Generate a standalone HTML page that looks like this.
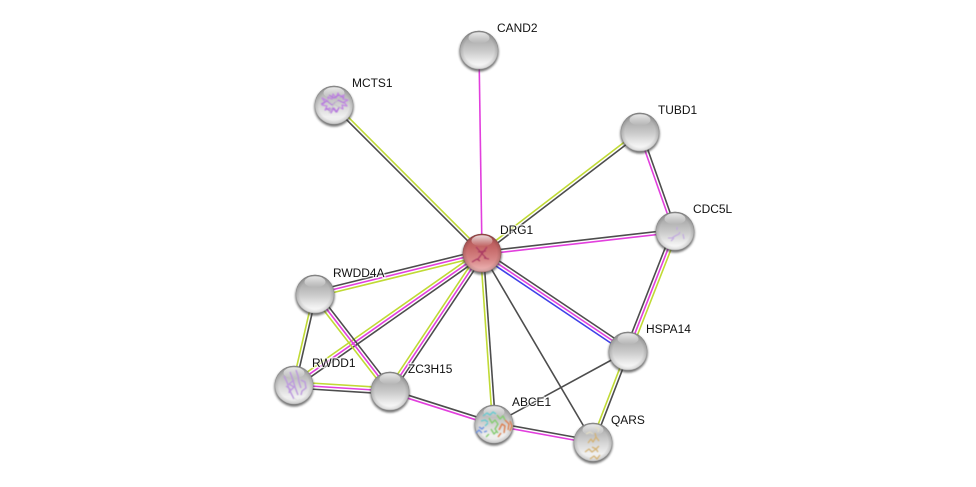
<!DOCTYPE html>
<html>
<head>
<meta charset="utf-8">
<style>
html,body{margin:0;padding:0;background:#fff;width:976px;height:487px;overflow:hidden}
svg{display:block}
text{font-family:"Liberation Sans",sans-serif;font-size:11.95px;fill:#111;paint-order:stroke;stroke:rgba(255,255,255,.75);stroke-width:2.5px;stroke-linejoin:round}
line{stroke-width:1.6;fill:none}
.k{stroke:#4d4d4d}.m{stroke:#e23fdd}.y{stroke:#c0da35}.b{stroke:#4040e8}
</style>
</head>
<body>
<svg width="976" height="487" viewBox="0 0 976 487" xmlns="http://www.w3.org/2000/svg">
<defs>
<linearGradient id="g" x1="0" y1="0" x2="0" y2="1">
<stop offset="0" stop-color="#9c9c9c"/>
<stop offset=".3" stop-color="#b4b4b4"/>
<stop offset=".55" stop-color="#cdcdcd"/>
<stop offset=".8" stop-color="#ededed"/>
<stop offset=".95" stop-color="#fbfbfb"/>
<stop offset="1" stop-color="#e6e6e6"/>
</linearGradient>
<linearGradient id="gs" x1="0" y1="0" x2="0" y2="1">
<stop offset="0" stop-color="#a2a2a2"/>
<stop offset=".3" stop-color="#bdbdbd"/>
<stop offset=".55" stop-color="#d8d8d8"/>
<stop offset=".8" stop-color="#f0f0f0"/>
<stop offset="1" stop-color="#e8e8e8"/>
</linearGradient>
<linearGradient id="r" x1="0" y1="0" x2="0" y2="1">
<stop offset="0" stop-color="#a94f4f"/>
<stop offset=".35" stop-color="#c46666"/>
<stop offset=".7" stop-color="#d88a8a"/>
<stop offset=".95" stop-color="#eeb5b5"/>
<stop offset="1" stop-color="#d59292"/>
</linearGradient>
<radialGradient id="rim" cx="50%" cy="50%" r="50%">
<stop offset=".78" stop-color="#000" stop-opacity="0"/>
<stop offset=".95" stop-color="#000" stop-opacity=".12"/>
<stop offset="1" stop-color="#000" stop-opacity=".32"/>
</radialGradient>
<linearGradient id="h" x1="0" y1="0" x2="0" y2="1">
<stop offset="0" stop-color="#fff" stop-opacity=".8"/>
<stop offset="1" stop-color="#fff" stop-opacity="0"/>
</linearGradient>
<filter id="s" x="-30%" y="-30%" width="160%" height="160%"><feGaussianBlur stdDeviation="1.1"/></filter>
<filter id="t" x="-10%" y="-10%" width="120%" height="120%"><feGaussianBlur stdDeviation=".5"/></filter>
<g id="n">
<circle cx="0" cy="1.8" r="19.8" fill="#3d3d3d" opacity=".7" filter="url(#s)"/>
<circle r="19.3" fill="url(#g)"/>
<circle r="19.3" fill="url(#rim)"/>
<ellipse cx="0" cy="-12.2" rx="10.5" ry="5.6" fill="url(#h)"/>
</g>
<g id="ns">
<circle cx="0" cy="1.8" r="19.8" fill="#3d3d3d" opacity=".7" filter="url(#s)"/>
<circle r="19.3" fill="url(#gs)"/>
<circle r="19.3" fill="url(#rim)"/>
<ellipse cx="0" cy="-12.2" rx="10.5" ry="5.6" fill="url(#h)"/>
</g>
<g id="nr">
<circle cx="0" cy="1.8" r="19.8" fill="#3d3d3d" opacity=".7" filter="url(#s)"/>
<circle r="19.3" fill="url(#r)"/>
<circle r="19.3" fill="url(#rim)"/>
<ellipse cx="0" cy="-12.2" rx="10.5" ry="5.6" fill="url(#h)"/>
</g>
</defs>

<!-- CAND2 -->
<line class="m" x1="479" y1="50" x2="482" y2="253"/>
<!-- MCTS1 -->
<line class="y" x1="335.06" y1="103.94" x2="483.06" y2="251.94"/>
<line class="k" x1="332.94" y1="106.06" x2="480.94" y2="254.06"/>
<!-- TUBD1 -->
<line class="y" x1="639.09" y1="130.81" x2="481.09" y2="251.81"/>
<line class="k" x1="640.91" y1="133.19" x2="482.91" y2="254.19"/>
<!-- TUBD1-CDC5L -->
<line class="k" x1="641.41" y1="131.5" x2="676.41" y2="230.5"/>
<line class="m" x1="638.59" y1="132.5" x2="673.59" y2="231.5"/>
<!-- DRG1-CDC5L -->
<line class="k" x1="481.83" y1="251.51" x2="674.83" y2="229.51"/>
<line class="m" x1="482.17" y1="254.49" x2="675.17" y2="232.49"/>
<!-- CDC5L-HSPA14 -->
<line class="k" x1="672.21" y1="229.91" x2="625.21" y2="349.91"/>
<line class="m" x1="675" y1="231" x2="628" y2="351"/>
<line class="y" x1="677.79" y1="232.09" x2="630.79" y2="352.09"/>
<!-- DRG1-HSPA14 -->
<line class="k" x1="483.67" y1="250.51" x2="629.67" y2="348.51"/>
<line class="m" x1="482" y1="253" x2="628" y2="351"/>
<line class="b" x1="480.33" y1="255.49" x2="626.33" y2="353.49"/>
<!-- HSPA14-QARS -->
<line class="k" x1="629.4" y1="351.54" x2="594.4" y2="442.54"/>
<line class="y" x1="626.6" y1="350.46" x2="591.6" y2="441.46"/>
<!-- single -->
<line class="k" x1="628" y1="351" x2="494" y2="424"/>
<line class="k" x1="482" y1="253" x2="593" y2="442"/>
<!-- DRG1-ABCE1 -->
<line class="k" x1="483.5" y1="252.9" x2="495.5" y2="423.9"/>
<line class="y" x1="480.5" y1="253.1" x2="492.5" y2="424.1"/>
<!-- ABCE1-QARS -->
<line class="k" x1="494.27" y1="422.52" x2="593.27" y2="440.52"/>
<line class="m" x1="493.73" y1="425.48" x2="592.73" y2="443.48"/>
<!-- ZC3H15-ABCE1 -->
<line class="k" x1="390.45" y1="389.57" x2="494.45" y2="422.57"/>
<line class="m" x1="389.55" y1="392.43" x2="493.55" y2="425.43"/>
<!-- DRG1-ZC3H15 -->
<line class="y" x1="479.5" y1="251.33" x2="387.5" y2="389.33"/>
<line class="m" x1="482" y1="253" x2="390" y2="391"/>
<line class="k" x1="484.5" y1="254.67" x2="392.5" y2="392.67"/>
<!-- DRG1-RWDD1 -->
<line class="y" x1="480.28" y1="250.55" x2="292.28" y2="382.55"/>
<line class="m" x1="482" y1="253" x2="294" y2="385"/>
<line class="k" x1="483.72" y1="255.45" x2="295.72" y2="387.45"/>
<!-- DRG1-RWDD4A -->
<line class="k" x1="481.29" y1="250.09" x2="314.29" y2="291.09"/>
<line class="m" x1="482" y1="253" x2="315" y2="294"/>
<line class="y" x1="482.71" y1="255.91" x2="315.71" y2="296.91"/>
<!-- RWDD4A-RWDD1 -->
<line class="k" x1="316.46" y1="294.34" x2="295.46" y2="385.34"/>
<line class="y" x1="313.54" y1="293.66" x2="292.54" y2="384.66"/>
<!-- RWDD4A-ZC3H15 -->
<line class="k" x1="317.37" y1="292.16" x2="392.37" y2="389.16"/>
<line class="m" x1="315" y1="294" x2="390" y2="391"/>
<line class="y" x1="312.63" y1="295.84" x2="387.63" y2="392.84"/>
<!-- RWDD1-ZC3H15 -->
<line class="y" x1="294.19" y1="382" x2="390.19" y2="388"/>
<line class="m" x1="294" y1="385" x2="390" y2="391"/>
<line class="k" x1="293.81" y1="388" x2="389.81" y2="394"/>

<!-- nodes -->
<use href="#n" x="479" y="50"/>
<use href="#ns" x="334" y="105"/>
<use href="#n" x="640" y="132"/>
<use href="#n" x="675" y="231"/>
<use href="#nr" x="482" y="253"/>
<use href="#n" x="315" y="294"/>
<use href="#n" x="628" y="351"/>
<use href="#ns" x="294" y="385"/>
<use href="#n" x="390" y="391"/>
<use href="#ns" x="494" y="424"/>
<use href="#ns" x="593" y="442"/>

<!-- structures -->
<g fill="none" stroke-linejoin="round" filter="url(#t)">
<path d="M322 98l3 4-3 3 5 1-2 4 5-2 1 5 3-5 3 4 2-5 4 2-1-4 5 1-3-4 4-2-5-1 1-4-4 2-2-4-2 5-3-4-1 5-4-2 0 4z" stroke="#c188e2" stroke-width="1.3"/>
<path d="M326 108l4 3 3-3 3 4 3-4M329 95l5 3 5-3 5 3M321 104l6-3 5 4 6-5 6 3" stroke="#b377dc" stroke-width="1.1"/>
<path d="M324 97l8 6 9 5M340 96l-7 10-4 7" stroke="#c4c4c4" stroke-width=".8"/>
<path d="M668 238l4 0 3-2 4-2 1-2M683 234l1 5M677 227l0 3M671 241l3-3" stroke="#bfa5e0" stroke-width="1.1"/>
<path d="M476 247l10 11M487 247l-9 12M472 262l5-3 3 2M478 252l8-1M484 258l5 1" stroke="#a83560" stroke-width="1.1"/>
<path d="M284 376l3 6 2 7 3 6 2 4M290 372l3 8 2 7 3 8M296 370l2 6 1 6 2 6M301 380l4 2 1 6-4 3-1 4M286 386l4 3-1 4M294 380l-5 4 5 3-4 4" stroke="#bc98de" stroke-width="1.4"/>
<path d="M294 398l4 3 2-2" stroke="#ddd" stroke-width="1"/>
<path d="M483 416l4-3 3 2 3-3 3 2M481 421l4-1 3 2M485 426l3-3" stroke="#68cbd0" stroke-width="1.4"/>
<path d="M476 433l3-3 3 3M479 427l3 2 2-2M484 432l3-1" stroke="#6f93e0" stroke-width="1.4"/>
<path d="M489 418l3 5 3-3 3 4-3 5 3 4M491 429l3 5 3-3M497 415l3 4 3-3 2 4M486 437l3-3" stroke="#84cc70" stroke-width="1.4"/>
<path d="M499 430l3-6 3 2-1 7M505 420l4 4-1 6M510 421l2 5-2 5M498 437l3-4" stroke="#dd7f50" stroke-width="1.4"/>
<path d="M588 443l3-4 2 3 3-5 3 4M585 452l4-3 3 3 4-3 2 3M590 459l4-3 3 3 3-4M592 447l4 2 3-3M595 433l1 4" stroke="#d4b275" stroke-width="1.3"/>
<path d="M586 434l4-2 3 2M595 427l4 2 -1 3" stroke="#e5dfc4" stroke-width="1"/>
</g>

<!-- labels -->
<text x="497" y="32">CAND2</text>
<text x="352" y="87">MCTS1</text>
<text x="658" y="114">TUBD1</text>
<text x="693" y="213">CDC5L</text>
<text x="500" y="234">DRG1</text>
<text x="333" y="277">RWDD4A</text>
<text x="646" y="333">HSPA14</text>
<text x="312" y="367">RWDD1</text>
<text x="408" y="373">ZC3H15</text>
<text x="512" y="406">ABCE1</text>
<text x="611" y="424">QARS</text>
</svg>
</body>
</html>
